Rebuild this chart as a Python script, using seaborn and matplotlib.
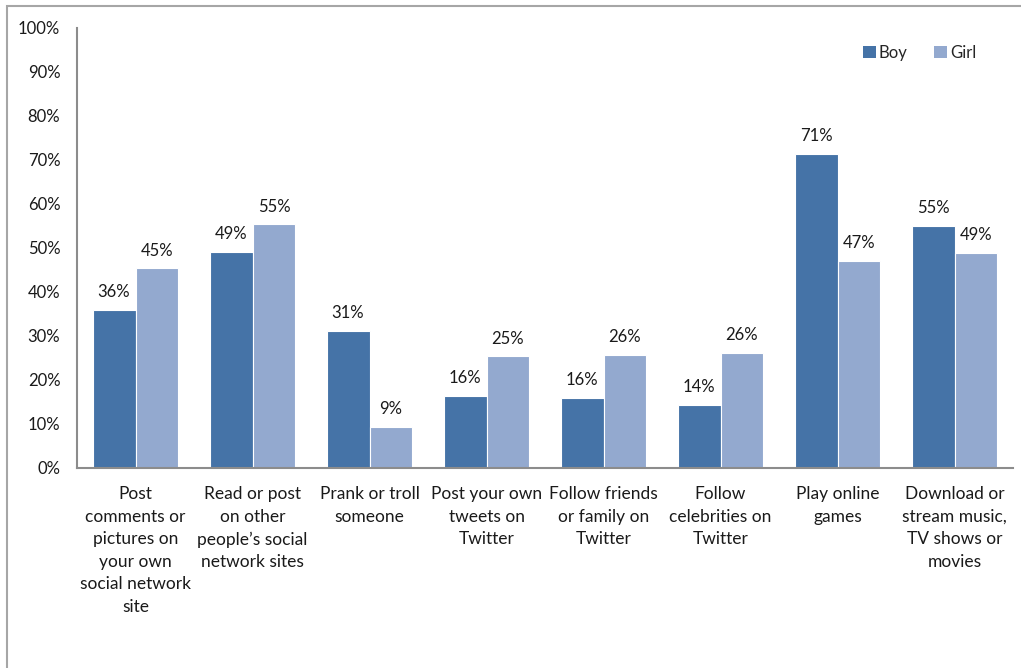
import numpy as np
import matplotlib.pyplot as plt
import seaborn as sns
import pandas as pd
from matplotlib.patches import Rectangle

activities = [
    "Post\ncomments or\npictures on\nyour own\nsocial network\nsite",
    "Read or post\non other\npeople\u2019s social\nnetwork sites",
    "Prank or troll\nsomeone",
    "Post your own\ntweets on\nTwitter",
    "Follow friends\nor family on\nTwitter",
    "Follow\ncelebrities on\nTwitter",
    "Play online\ngames",
    "Download or\nstream music,\nTV shows or\nmovies",
]
boy = [35.9, 49.1, 31.1, 16.4, 15.9, 14.4, 71.4, 55.0]
girl = [45.4, 55.4, 9.3, 25.4, 25.7, 26.1, 47.0, 48.9]
groups = ["Boy", "Girl"]
colors = ["#4573A7", "#93A9CF"]
yticks = list(range(0, 101, 10))

df = pd.DataFrame({
    "activity": activities * 2,
    "pct": boy + girl,
    "gender": ["Boy"] * len(boy) + ["Girl"] * len(girl),
})

sns.set_style("white")
plt.rcParams["font.family"] = ["Lato", "DejaVu Sans"]

fig = plt.figure(figsize=(10.21, 6.68), dpi=100)
ax = fig.add_axes([77 / 1021, 1 - 468 / 668, (1013 - 77) / 1021, 440 / 668])

sns.barplot(data=df, x="activity", y="pct", hue="gender", hue_order=groups,
            palette=colors, saturation=1, width=0.735, edgecolor="white",
            linewidth=0.8, ax=ax)

for cont, vals in zip(ax.containers, [boy, girl]):
    ax.bar_label(cont, labels=[f"{round(v):.0f}%" for v in vals], padding=7,
                 fontsize=12, color="#1a1a1a")

ax.set_ylim(0, 100)
ax.set_xlim(-0.5, len(activities) - 0.5)
ax.set_yticks(yticks)
ax.set_yticklabels([f"{t}%" for t in yticks])
ax.set_xlabel("")
ax.set_ylabel("")
ax.tick_params(axis="y", length=0, pad=12, labelsize=12, labelcolor="#1a1a1a")
ax.tick_params(axis="x", length=0, pad=13, labelsize=12.5, labelcolor="#1a1a1a")
for lbl in ax.get_xticklabels():
    lbl.set_linespacing(1.5)
    lbl.set_ha("center")

sns.despine(ax=ax)
for side in ["left", "bottom"]:
    ax.spines[side].set_color("#8c8c8c")
    ax.spines[side].set_linewidth(1.5)

leg = ax.legend(loc="upper right", bbox_to_anchor=(0.977, 0.995), ncol=2, frameon=False,
                fontsize=12, handlelength=0.75, handleheight=0.75,
                handletextpad=0.2, columnspacing=1.6)
for h in leg.legend_handles:
    h.set_edgecolor("none")

fig.patches.append(Rectangle((7 / 1021, -0.1), 1.2, 1 - 6 / 668 + 0.1,
                             transform=fig.transFigure, fill=False,
                             edgecolor="#a6a6a6", linewidth=1.5))

fig.savefig("out.png", dpi=100)
